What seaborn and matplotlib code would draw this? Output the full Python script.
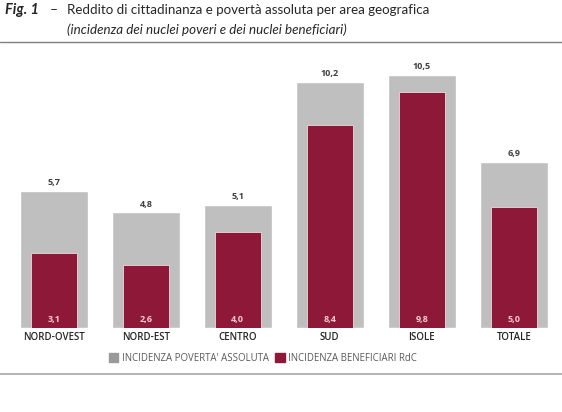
import pandas as pd
import matplotlib.pyplot as plt
import seaborn as sns
from matplotlib.patches import Patch
from matplotlib.lines import Line2D

areas = ["NORD-OVEST", "NORD-EST", "CENTRO", "SUD", "ISOLE", "TOTALE"]
poverta = [5.7, 4.8, 5.1, 10.2, 10.5, 6.9]
beneficiari = [3.1, 2.6, 4.0, 8.4, 9.8, 5.0]

df = pd.DataFrame({"area": areas, "poverta": poverta, "beneficiari": beneficiari})

grey = "#BFBFBF"
red = "#8E1838"

sns.set_style("white")
plt.rcParams['font.family'] = ['Open Sans', 'DejaVu Sans']

fig = plt.figure(figsize=(5.62, 4.12), dpi=100)
ax = fig.add_axes([0.014, 0.204, 0.982, 0.667])

sns.barplot(data=df, x="area", y="poverta", color=grey, width=0.74, saturation=1, ax=ax)
sns.barplot(data=df, x="area", y="beneficiari", color=red, width=0.5, saturation=1, ax=ax,
            edgecolor="#F2D7DE", linewidth=0.6)

for i, (p, b) in enumerate(zip(poverta, beneficiari)):
    ax.text(i, p + 0.15, f"{p:.1f}".replace(".", ","), ha="center", va="bottom",
            fontsize=6.5, color="#404040", fontweight="bold")
    ax.text(i, 0.15, f"{b:.1f}".replace(".", ","), ha="center", va="bottom",
            fontsize=6.5, color="#F4C9D4", fontweight="bold")

ax.set_ylim(0, 11.4)
ax.set_xlim(-0.5, 5.5)
ax.set_xlabel("")
ax.set_ylabel("")
ax.set_yticks([])
ax.tick_params(axis="x", length=0, pad=3, labelsize=7, labelcolor="#262626")
for lbl in ax.get_xticklabels():
    lbl.set_fontweight("semibold")
for s in ax.spines.values():
    s.set_visible(False)

handles = [Patch(color="#999999", label="INCIDENZA POVERTA' ASSOLUTA"),
           Patch(color=red, label="INCIDENZA BENEFICIARI RdC")]
fig.legend(handles=handles, loc="center", bbox_to_anchor=(0.468, 0.131), ncol=2, frameon=False,
           fontsize=6.9, handlelength=1.0, handleheight=1.0, handletextpad=0.4,
           columnspacing=0.6, labelcolor="#595959")

fig.text(0.009, 0.975, "Fig. 1", fontsize=10.5, fontweight="bold", style="italic", va="center",
         family=["Lato", "DejaVu Sans"])
fig.text(0.088, 0.975, "–", fontsize=10, va="center", family=["Lato", "DejaVu Sans"])
fig.text(0.119, 0.975, "Reddito di cittadinanza e povertà assoluta per area geografica",
         fontsize=9.6, va="center", family=["Lato", "DejaVu Sans"])
fig.text(0.119, 0.927, "(incidenza dei nuclei poveri e dei nuclei beneficiari)",
         fontsize=9.6, style="italic", va="center", family=["Lato", "DejaVu Sans"])

fig.add_artist(Line2D([0, 1], [0.898, 0.898], color="#7F7F7F", linewidth=1.0))
fig.add_artist(Line2D([0, 1], [0.092, 0.092], color="#A6A6A6", linewidth=1.2))

fig.savefig("out.png", dpi=100)
